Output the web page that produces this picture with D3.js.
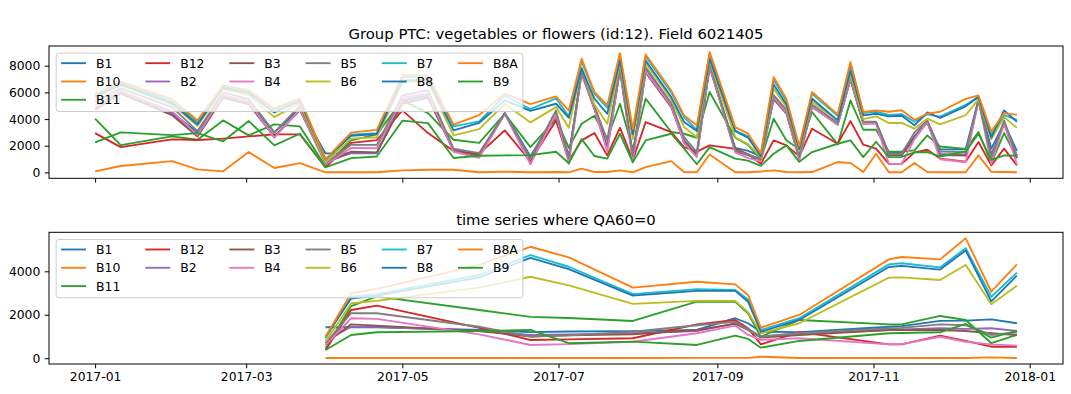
<!DOCTYPE html>
<html lang="en">

<head>
    <meta charset="UTF-8" />
    <title>Group PTC: vegetables or flowers (id:12). Field 6021405</title>
    <script src="https://d3js.org/d3.v7.min.js"></script>
    <style>
        body { margin: 0; background: #fff; }
        svg { font-family: "DejaVu Sans", sans-serif; }
    </style>
</head>

<body>
    <script>
        // acquisition dates of the field
        var dates = ["2017-01-01", "2017-01-11", "2017-01-31", "2017-02-10", "2017-02-20", "2017-03-02", "2017-03-12",
            "2017-03-22", "2017-04-01", "2017-04-11", "2017-04-21", "2017-05-01", "2017-05-11", "2017-05-21",
            "2017-05-31", "2017-06-10", "2017-06-20", "2017-06-30", "2017-07-05", "2017-07-10", "2017-07-15",
            "2017-07-20", "2017-07-25", "2017-07-30", "2017-08-04", "2017-08-14", "2017-08-19", "2017-08-24",
            "2017-08-29", "2017-09-08", "2017-09-13", "2017-09-18", "2017-09-23", "2017-09-28", "2017-10-03",
            "2017-10-08", "2017-10-18", "2017-10-23", "2017-10-28", "2017-11-02", "2017-11-07", "2017-11-12",
            "2017-11-17", "2017-11-22", "2017-11-27", "2017-12-07", "2017-12-12", "2017-12-17", "2017-12-22",
            "2017-12-27"];

        // dates where QA60 = 0
        var clearDates = ["2017-04-01", "2017-04-11", "2017-04-21", "2017-05-31", "2017-06-20", "2017-07-05",
            "2017-07-30", "2017-08-24", "2017-09-08", "2017-09-13", "2017-09-18", "2017-10-03", "2017-11-07",
            "2017-11-12", "2017-11-27", "2017-12-07", "2017-12-17", "2017-12-27"];

        var bands = ["B1", "B10", "B11", "B12", "B2", "B3", "B4", "B5", "B6", "B7", "B8", "B8A", "B9"];
        var colors = ["#1f77b4", "#ff7f0e", "#2ca02c", "#d62728", "#9467bd", "#8c564b", "#e377c2",
            "#7f7f7f", "#bcbd22", "#17becf", "#1f77b4", "#ff7f0e", "#2ca02c"];

        var B1 = [5000, 6100, 4500, 3000, 5800, 5300, 3000, 4800, 1425, 1425, 1425, 5400, 5800, 1700, 1300, 4450, 1200, 4400, 1230, 7550, 4900, 1900, 7800, 1250, 7700, 5100, 2400, 1300, 8000, 1840, 1610, 1220, 5600, 4550, 1200, 5000, 3650, 7050, 3750, 3750, 1450, 1480, 2700, 3850, 1720, 1730, 5450, 1790, 3700, 1610];
        var B10 = [80, 480, 850, 230, 80, 1530, 330, 700, 10, 10, 10, 150, 200, 200, 10, 60, 10, 30, 10, 280, 30, 30, 150, 10, 400, 850, 30, 15, 1350, 15, 15, 70, 150, 30, 10, 30, 780, 700, 30, 1400, 10, 10, 700, 30, 10, 10, 1280, 40, 30, 10];
        var B11 = [4030, 2050, 2700, 2450, 3900, 2780, 3600, 3450, 450, 2400, 2850, 5400, 4450, 2450, 2220, 4400, 1900, 4000, 1850, 3650, 4250, 2530, 5150, 1715, 5530, 3030, 2900, 2600, 6030, 2600, 2070, 990, 4030, 2400, 1760, 4530, 2100, 5400, 3200, 3200, 1560, 1560, 1650, 2780, 1945, 1760, 3030, 690, 2950, 1070];
        var B12 = [2950, 1900, 2480, 2430, 2530, 2700, 2850, 2850, 380, 2220, 2420, 4650, 2950, 1600, 1400, 3150, 840, 3900, 870, 2400, 2950, 1280, 3350, 920, 3780, 3030, 1900, 1560, 2030, 1760, 1380, 640, 2400, 2030, 1200, 3280, 2150, 3850, 2080, 1780, 640, 640, 1500, 1700, 1040, 800, 2280, 530, 1780, 530];
        var B2 = [4800, 6000, 4400, 2750, 5700, 5200, 2650, 4700, 800, 1450, 1450, 5300, 5700, 1600, 1250, 4400, 1070, 4350, 1100, 7500, 4800, 1700, 7750, 1150, 7600, 5000, 2250, 1250, 7950, 1600, 1350, 1000, 5550, 4450, 1150, 4950, 3600, 7000, 3700, 3700, 1300, 1320, 2550, 3800, 1380, 1350, 5450, 1380, 3700, 1255];
        var B3 = [4700, 5900, 4300, 2700, 5600, 5100, 2700, 4700, 700, 1560, 1500, 5150, 5600, 1650, 1250, 4400, 1000, 4300, 1050, 7400, 4750, 1800, 7700, 1100, 7500, 4900, 2300, 1300, 7900, 1580, 1300, 950, 5500, 4400, 1070, 4900, 3600, 6950, 3650, 3700, 1300, 1300, 2600, 3750, 1300, 1255, 5400, 1150, 3650, 1070];
        var B4 = [5000, 6100, 4600, 2800, 5800, 5300, 2600, 4750, 600, 1840, 1810, 5600, 5900, 1550, 1100, 4400, 610, 4400, 650, 7500, 4800, 1600, 7800, 760, 7600, 5000, 2200, 1150, 8000, 1500, 1070, 840, 5600, 4500, 920, 4950, 3550, 7000, 3700, 3650, 640, 650, 2500, 3800, 990, 760, 5400, 640, 3700, 580];
        var B5 = [5300, 6300, 4900, 3100, 6000, 5500, 3000, 5000, 700, 2070, 2070, 5780, 6150, 1780, 1450, 4450, 1000, 4650, 1050, 7600, 5000, 2400, 7900, 1220, 7900, 5200, 2650, 1520, 8200, 1680, 1300, 990, 5800, 4700, 1150, 5100, 3700, 7200, 3800, 3800, 1380, 1400, 3000, 3900, 1560, 1520, 5450, 1070, 3900, 1195];
        var B6 = [5600, 6500, 5100, 3500, 6250, 5800, 4150, 5200, 760, 2530, 2640, 6800, 6800, 2780, 3250, 5150, 3750, 4900, 3350, 7900, 5100, 3650, 8200, 2500, 8200, 5500, 3400, 2640, 8400, 2640, 2120, 1150, 6300, 4900, 1610, 5300, 3900, 7400, 4000, 4200, 3710, 3720, 3280, 4030, 3600, 4290, 5500, 2480, 4150, 3340];
        var B7 = [5800, 6700, 5350, 3750, 6450, 6050, 4700, 5450, 920, 2830, 2950, 7150, 7150, 3450, 3830, 5750, 4750, 5550, 4210, 8350, 5900, 4850, 8800, 2950, 8700, 6000, 4150, 3180, 8900, 3140, 2700, 1300, 6950, 5350, 1840, 5900, 4250, 8100, 4450, 4550, 4320, 4370, 3800, 4350, 4180, 5060, 5700, 2830, 4300, 3940];
        var B8 = [5700, 6600, 5200, 3600, 6350, 5950, 4500, 5350, 1000, 2750, 2880, 6900, 6950, 3150, 3720, 5400, 4620, 5150, 4100, 7780, 5530, 4400, 8400, 2880, 8400, 5650, 3780, 3100, 8530, 3100, 2600, 1220, 6600, 5100, 1760, 5530, 3900, 7650, 4280, 4400, 4200, 4250, 3530, 4500, 4080, 4960, 5650, 2620, 4650, 3800];
        var B8A = [5900, 6800, 5500, 3900, 6550, 6150, 4800, 5550, 990, 2990, 3190, 7280, 7280, 3580, 4300, 5900, 5130, 5700, 4640, 8530, 6030, 5030, 8950, 3250, 8850, 6150, 4280, 3520, 9030, 3400, 2910, 1410, 7150, 5500, 1990, 6030, 4350, 8280, 4530, 4650, 4550, 4660, 3950, 4400, 4550, 5520, 5780, 3060, 4450, 4320];
        var B9 = [2250, 3000, 2800, 2950, 2330, 3850, 2030, 2900, 380, 1070, 1195, 3880, 3700, 1080, 1250, 1280, 1300, 1550, 690, 2500, 1230, 1030, 2900, 763, 2400, 2900, 1780, 611, 1900, 1039, 887, 487, 1400, 2030, 795, 1530, 2150, 2400, 1150, 2300, 1150, 1160, 1500, 1530, 1195, 1577, 2900, 947, 1280, 1255];

        var xTicks = ["2017-01-01", "2017-03-01", "2017-05-01", "2017-07-01", "2017-09-01", "2017-11-01", "2018-01-01"];
        var topYTicks = [0, 2000, 4000, 6000, 8000];
        var bottomYTicks = [0, 2000, 4000];

        var w = 1071;
        var h = 394;
        var left = 49, right = 1063;
        var pt = 1.236;            // px per point
        var fs = 10 * pt;
        var lw = 1.5 * pt;

        var parse = d3.utcParse("%Y-%m-%d");
        var values = [B1, B10, B11, B12, B2, B3, B4, B5, B6, B7, B8, B8A, B9];

        var svg = d3.select("body")
            .append("svg")
            .attr("width", w)
            .attr("height", h);

        var ext = d3.extent(dates, parse);
        var span = ext[1] - ext[0];
        var xScale = d3.scaleUtc()
            .domain([new Date(+ext[0] - span * 0.05), new Date(+ext[1] + span * 0.05)])
            .range([left, right]);

        var panels = [
            { title: "Group PTC: vegetables or flowers (id:12). Field 6021405", top: 46, bottom: 178.3,
              yTicks: topYTicks, labels: false, keep: dates },
            { title: "time series where QA60=0", top: 232.3, bottom: 364,
              yTicks: bottomYTicks, labels: true, keep: clearDates }
        ];

        panels.forEach(function (p, pi) {
            var g = svg.append("g");

            var series = bands.map(function (b, i) {
                var pts = [];
                dates.forEach(function (d, j) {
                    if (p.keep.indexOf(d) >= 0) pts.push({ date: parse(d), value: values[i][j] });
                });
                return { name: b, color: colors[i], points: pts };
            });

            var all = [];
            series.forEach(function (s) { s.points.forEach(function (q) { all.push(q.value); }); });
            var lo = d3.min(all), hi = d3.max(all), pad = (hi - lo) * 0.05;

            var yScale = d3.scaleLinear()
                .domain([lo - pad, hi + pad])
                .range([p.bottom, p.top]);

            g.append("clipPath").attr("id", "clip" + pi)
                .append("rect")
                .attr("x", left).attr("y", p.top)
                .attr("width", right - left).attr("height", p.bottom - p.top);

            var line = d3.line()
                .x(function (d) { return xScale(d.date); })
                .y(function (d) { return yScale(d.value); });

            g.append("g").attr("clip-path", "url(#clip" + pi + ")")
                .selectAll("path")
                .data(series)
                .enter()
                .append("path")
                .attr("d", function (d) { return line(d.points); })
                .attr("fill", "none")
                .attr("stroke", function (d) { return d.color; })
                .attr("stroke-width", lw)
                .attr("stroke-linejoin", "round");

            // axes
            var xa = g.append("g")
                .attr("transform", "translate(0," + p.bottom + ")")
                .call(d3.axisBottom(xScale)
                    .tickValues(xTicks.map(parse))
                    .tickFormat(p.labels ? d3.utcFormat("%Y-%m") : function () { return ""; })
                    .tickSize(3.5 * pt)
                    .tickPadding(3.5 * pt));

            var ya = g.append("g")
                .attr("transform", "translate(" + left + ",0)")
                .call(d3.axisLeft(yScale)
                    .tickValues(p.yTicks)
                    .tickFormat(d3.format("d"))
                    .tickSize(3.5 * pt)
                    .tickPadding(3.5 * pt));

            [xa, ya].forEach(function (a) {
                a.select(".domain").remove();
                a.selectAll(".tick line").attr("stroke", "#000").attr("stroke-width", 0.8 * pt);
                a.selectAll(".tick text")
                    .attr("fill", "#000")
                    .style("font-size", fs + "px")
                    .style("font-family", "DejaVu Sans");
            });

            g.append("rect")
                .attr("x", left).attr("y", p.top)
                .attr("width", right - left).attr("height", p.bottom - p.top)
                .attr("fill", "none")
                .attr("stroke", "#000")
                .attr("stroke-width", 0.8 * pt);

            g.append("text")
                .attr("x", (left + right) / 2)
                .attr("y", p.top - 6 * pt)
                .attr("text-anchor", "middle")
                .style("font-size", 12 * pt + "px")
                .text(p.title);

            drawLegend(g, left + 0.5 * fs + 1, p.top + 0.5 * fs + 1);
        });

        function drawLegend(g, x0, y0) {
            var lf = 12.45;
            var bpad = 0.4 * lf, handle = 2 * lf, textPad = 0.8 * lf, colGap = 2 * lf, rowH = 18.3;
            var box = g.append("rect");
            var items = g.append("g");
            var ncol = 6;
            var base = Math.floor(bands.length / ncol), extra = bands.length % ncol;
            var rows = base + (extra ? 1 : 0);
            var k = 0, cx = x0 + bpad;

            for (var c = 0; c < ncol; c++) {
                var n = base + (c < extra ? 1 : 0), colW = 0;
                for (var r = 0; r < n; r++, k++) {
                    var cy = y0 + 10 + r * rowH;
                    items.append("line")
                        .attr("x1", cx).attr("x2", cx + handle)
                        .attr("y1", cy).attr("y2", cy)
                        .attr("stroke", colors[k])
                        .attr("stroke-width", lw);
                    var t = items.append("text")
                        .attr("x", cx + handle + textPad)
                        .attr("y", cy)
                        .attr("dy", "0.36em")
                        .style("font-size", lf + "px")
                        .text(bands[k]);
                    colW = Math.max(colW, t.node().getComputedTextLength());
                }
                cx += handle + textPad + colW + colGap;
            }

            box.attr("x", x0).attr("y", y0)
                .attr("width", cx - colGap + bpad - x0)
                .attr("height", 10 + (rows - 1) * rowH + 11.7)
                .attr("rx", 2.5)
                .attr("fill", "#fff")
                .attr("fill-opacity", 0.8)
                .attr("stroke", "#ccc")
                .attr("stroke-width", 0.8 * pt);
        }
    </script>
</body>

</html>
